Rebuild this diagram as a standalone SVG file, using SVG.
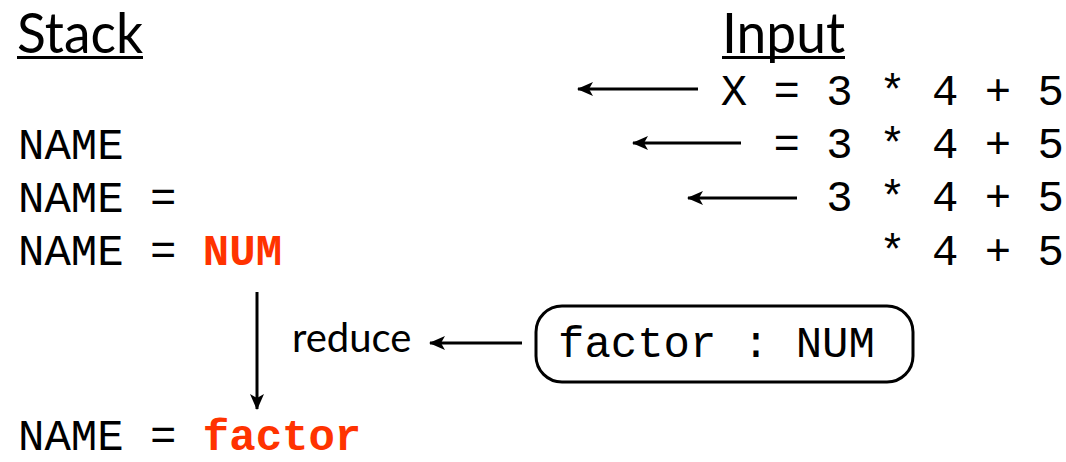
<svg xmlns="http://www.w3.org/2000/svg" width="1066" height="462" viewBox="0 0 1066 462">
<style>
.mono{font-family:"Liberation Mono","Courier New",monospace;font-size:44px;fill:#000}
.red{fill:#ff3300;font-weight:bold}
.head{font-family:Lato,"Open Sans",sans-serif;font-size:56px;fill:#000}
.lbl{font-family:Lato,"Open Sans",sans-serif;font-size:40px;fill:#000}
.conn line{stroke:#000;stroke-width:3;fill:none}
</style>
<defs>
<marker id="ah" viewBox="0 0 16 14" refX="15" refY="7" markerWidth="16" markerHeight="14" markerUnits="userSpaceOnUse" orient="auto">
<path d="M0,0 L16,7 L0,14 L4,7 Z" fill="#000"/>
</marker>
</defs>
<g id="stack-header">
<text class="head" x="17" y="53" textLength="126" lengthAdjust="spacingAndGlyphs">Stack</text>
<rect x="17" y="56" width="126" height="3" fill="#000"/>
</g>
<g id="input-header">
<text class="head" x="722" y="53" textLength="123" lengthAdjust="spacingAndGlyphs">Input</text>
<rect x="722" y="56" width="123" height="3" fill="#000"/>
</g>
<g id="input-rows">
<text class="mono" x="1064" y="105" text-anchor="end" xml:space="preserve">X = 3 * 4 + 5</text>
<text class="mono" x="1064" y="158" text-anchor="end" xml:space="preserve">= 3 * 4 + 5</text>
<text class="mono" x="1064" y="211" text-anchor="end" xml:space="preserve">3 * 4 + 5</text>
<text class="mono" x="1064" y="265" text-anchor="end" xml:space="preserve">* 4 + 5</text>
</g>
<g id="stack-rows">
<text class="mono" x="18" y="159" xml:space="preserve">NAME</text>
<text class="mono" x="18" y="212" xml:space="preserve">NAME =</text>
<text class="mono" x="18" y="265" xml:space="preserve">NAME = <tspan class="red">NUM</tspan></text>
<text class="mono" x="18" y="450" xml:space="preserve">NAME = <tspan class="red">factor</tspan></text>
</g>
<g id="reduce-label">
<text class="lbl" x="292" y="352">reduce</text>
</g>
<g id="rule-box">
<rect x="536" y="306" width="377" height="76" rx="26" ry="26" fill="#fff" stroke="#000" stroke-width="3"/>
<text class="mono" x="558" y="357" xml:space="preserve">factor : NUM</text>
</g>
<g class="conn" id="connectors">
<line x1="698" y1="89" x2="578" y2="89" marker-end="url(#ah)"/>
<line x1="741" y1="143" x2="633" y2="143" marker-end="url(#ah)"/>
<line x1="797" y1="198" x2="688" y2="198" marker-end="url(#ah)"/>
<line x1="257" y1="292" x2="257" y2="409" marker-end="url(#ah)"/>
<line x1="522" y1="343" x2="430" y2="343" marker-end="url(#ah)"/>
</g>
</svg>
